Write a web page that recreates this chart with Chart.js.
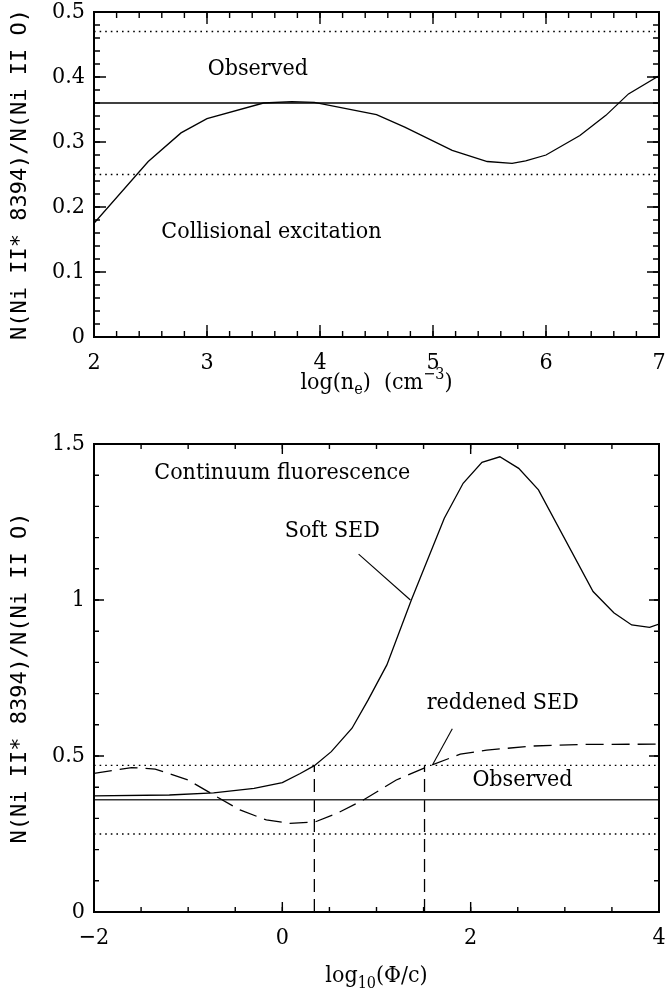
<!DOCTYPE html>
<html>
<head>
<meta charset="utf-8">
<script src="https://cdn.jsdelivr.net/npm/chart.js@4.4.0/dist/chart.umd.min.js"></script>
<style>
    html, body { margin: 0; padding: 0; background: #fff; }
    #wrap { position: relative; width: 666px; height: 992px; }
    canvas { position: absolute; left: 0; }
    #topChart { top: 0; }
    #bottomChart { top: 400px; }
</style>
</head>
<body>
<div id="wrap">
    <canvas id="topChart" width="666" height="400"></canvas>
    <canvas id="bottomChart" width="666" height="592"></canvas>
</div>
<script>
// top panel: collisional excitation vs log(n_e)
const densityLog = [2.0, 2.48, 2.77, 3.0, 3.5, 3.75, 3.95, 4.5, 4.75, 5.17, 5.48, 5.7, 5.82, 6.0, 6.3, 6.53, 6.73, 7.0];
const collisionalRatio = [0.175, 0.270, 0.314, 0.336, 0.360, 0.362, 0.361, 0.342, 0.323, 0.287, 0.270, 0.267, 0.271, 0.280, 0.310, 0.341, 0.374, 0.402];

// bottom panel: continuum fluorescence vs log10(phi/c)
const softPhi = [-2.0, -1.2, -0.73, -0.3, 0.0, 0.19, 0.34, 0.52, 0.74, 0.91, 1.11, 1.37, 1.72, 1.92, 2.12, 2.31, 2.51, 2.72, 3.30, 3.52, 3.71, 3.90, 4.0];
const softRatio = [0.372, 0.375, 0.382, 0.396, 0.415, 0.444, 0.469, 0.514, 0.589, 0.679, 0.792, 1.0, 1.262, 1.374, 1.441, 1.459, 1.422, 1.353, 1.027, 0.959, 0.920, 0.912, 0.923];
const reddenedPhi = [-2.0, -1.6, -1.35, -1.0, -0.7, -0.45, -0.17, 0.08, 0.35, 0.58, 0.86, 1.21, 1.52, 1.89, 2.17, 2.67, 3.2, 4.0];
const reddenedRatio = [0.444, 0.463, 0.458, 0.423, 0.370, 0.327, 0.295, 0.284, 0.289, 0.316, 0.359, 0.423, 0.463, 0.506, 0.519, 0.532, 0.537, 0.538];

// observed ratio and its lower / upper limits
const observedRatio = 0.36;
const observedBounds = [0.25, 0.47];
// where the two models reach the upper limit
const crossingPhi = [0.34, 1.51];

// leader lines from labels to curves
const softLeader = [[0.81, 1.147], [1.36, 1.0]];
const reddenedLeader = [[1.805, 0.587], [1.597, 0.473]];

// tick labels
const topXTicks = [2, 3, 4, 5, 6, 7];
const topYTicks = [0, 0.1, 0.2, 0.3, 0.4, 0.5];
const bottomXTicks = [-2, 0, 2, 4];
const bottomYTicks = [0, 0.5, 1, 1.5];

// axis titles, pieces: [text, vertical shift] (shift != 0 -> small font)
const topXTitle = [["log(n", 0], ["e", 5], [")  (cm", 0], ["\u22123", -10], [")", 0]];
const bottomXTitle = [["log", 0], ["10", 6], ["(\u03A6/c)", 0]];
const yTitle = "N(Ni II* 8394)/N(Ni II O)";

const serif = '"DejaVu Serif Condensed", "DejaVu Serif", serif';
const tickFont = {family: serif, size: 23};
const noteFont = '23px ' + serif;
const smallFont = '16px ' + serif;
const yTitleFont = {family: '"DejaVu Sans Mono", monospace', size: 22};

const pts = (xs, ys) => xs.map((x, i) => ({x: x, y: ys[i]}));
const fmt = (v) => (v < 0 ? "\u2212" + Math.abs(v) : String(v));

// frame + inward ticks on all four sides
const frameTicks = {
    id: "frameTicks",
    afterDatasetsDraw(chart, args, opts) {
        const {ctx, chartArea: a, scales} = chart;
        ctx.save();
        ctx.strokeStyle = "#000";
        ctx.lineWidth = 1.4;
        const draw = (scale, step, len) => {
            const n = Math.round((scale.max - scale.min) / step);
            for (let i = 0; i <= n; i++) {
                const p = scale.getPixelForValue(scale.min + i * step);
                ctx.beginPath();
                if (scale.isHorizontal()) {
                    ctx.moveTo(p, a.bottom); ctx.lineTo(p, a.bottom - len);
                    ctx.moveTo(p, a.top); ctx.lineTo(p, a.top + len);
                } else {
                    ctx.moveTo(a.left, p); ctx.lineTo(a.left + len, p);
                    ctx.moveTo(a.right, p); ctx.lineTo(a.right - len, p);
                }
                ctx.stroke();
            }
        };
        draw(scales.x, opts.xMinor, opts.minorLen);
        draw(scales.y, opts.yMinor, opts.minorLen);
        draw(scales.x, opts.xMajor, opts.majorLen);
        draw(scales.y, opts.yMajor, opts.majorLen);
        ctx.lineWidth = 2;
        ctx.strokeRect(a.left, a.top, a.width, a.height);
        ctx.restore();
    }
};

// text notes placed in data units
const notes = {
    id: "notes",
    afterDatasetsDraw(chart, args, opts) {
        const {ctx, scales} = chart;
        ctx.save();
        ctx.font = noteFont;
        ctx.fillStyle = "#000";
        ctx.textAlign = "center";
        ctx.textBaseline = "middle";
        (opts.items || []).forEach(n => {
            ctx.fillText(n.text, scales.x.getPixelForValue(n.x), scales.y.getPixelForValue(n.y));
        });
        ctx.restore();
    }
};

// x title with sub/superscripts, centred under the plot
function xTitlePlugin(parts, baseline) {
    return {
        id: "xTitle",
        afterDraw(chart) {
            const {ctx, chartArea: a} = chart;
            ctx.save();
            ctx.fillStyle = "#000";
            ctx.textBaseline = "alphabetic";
            ctx.textAlign = "left";
            let total = 0;
            parts.forEach(p => {
                ctx.font = p[1] ? smallFont : noteFont;
                total += ctx.measureText(p[0]).width;
            });
            let x = (a.left + a.right) / 2 - total / 2;
            parts.forEach(p => {
                ctx.font = p[1] ? smallFont : noteFont;
                ctx.fillText(p[0], x, baseline + p[1]);
                x += ctx.measureText(p[0]).width;
            });
            ctx.restore();
        }
    };
}

function makeAxes(xMin, xMax, yMin, yMax, xTicks, yTicks, xHeight) {
    return {
        x: {
            type: "linear", min: xMin, max: xMax,
            afterBuildTicks: (s) => { s.ticks = xTicks.map(v => ({value: v})); },
            afterFit: (s) => { s.height = xHeight; s.paddingLeft = 0; s.paddingRight = 0; },
            grid: {display: false, drawTicks: false},
            border: {display: false},
            ticks: {color: "#000", font: tickFont, padding: 12, maxRotation: 0, autoSkip: false, callback: fmt},
            title: {display: false}
        },
        y: {
            type: "linear", min: yMin, max: yMax,
            afterBuildTicks: (s) => { s.ticks = yTicks.map(v => ({value: v})); },
            afterFit: (s) => { s.width = 94; s.paddingTop = 0; s.paddingBottom = 0; },
            grid: {display: false, drawTicks: false},
            border: {display: false},
            ticks: {color: "#000", font: tickFont, padding: 9, autoSkip: false, callback: fmt},
            title: {display: true, text: yTitle, color: "#000", font: yTitleFont, padding: {top: 7, bottom: 0}}
        }
    };
}

const line = (data, extra) => Object.assign({
    data: data, showLine: true, pointRadius: 0, borderColor: "#000",
    borderWidth: 1.3, fill: false, tension: 0
}, extra || {});

const dotted = {borderDash: [1.6, 4], borderWidth: 1.4};

// ----------------------------
// TOP – collisional excitation
// ----------------------------
(function () {
    const ctx = document.getElementById("topChart");
    new Chart(ctx, {
        type: "scatter",
        data: {
            datasets: [
                line(pts(densityLog, collisionalRatio)),
                line(pts([2, 7], [observedRatio, observedRatio]), {borderWidth: 1.5}),
                line(pts([2, 7], [observedBounds[0], observedBounds[0]]), dotted),
                line(pts([2, 7], [observedBounds[1], observedBounds[1]]), dotted)
            ]
        },
        options: {
            responsive: false,
            animation: false,
            layout: {padding: {top: 12, right: 7, left: 0, bottom: 0}},
            scales: makeAxes(2, 7, 0, 0.5, topXTicks, topYTicks, 63),
            plugins: {
                legend: {display: false},
                tooltip: {enabled: false},
                frameTicks: {xMinor: 0.2, yMinor: 0.02, xMajor: 1, yMajor: 0.1, minorLen: 6, majorLen: 12},
                notes: {items: [
                    {text: "Observed", x: 3.45, y: 0.412},
                    {text: "Collisional excitation", x: 3.57, y: 0.161}
                ]}
            }
        },
        plugins: [frameTicks, notes, xTitlePlugin(topXTitle, 389)]
    });
})();

// ----------------------------
// BOTTOM – continuum fluorescence
// ----------------------------
(function () {
    const ctx = document.getElementById("bottomChart");
    const dashed = {borderDash: [18, 8], borderWidth: 1.3};
    const vDashed = {borderDash: [13, 7], borderWidth: 1.3};
    new Chart(ctx, {
        type: "scatter",
        data: {
            datasets: [
                line(pts(softPhi, softRatio)),
                line(pts(reddenedPhi, reddenedRatio), dashed),
                line(pts([-2, 4], [observedRatio, observedRatio]), {borderWidth: 1.6, borderColor: "#333"}),
                line(pts([-2, 4], [observedBounds[0], observedBounds[0]]), dotted),
                line(pts([-2, 4], [observedBounds[1], observedBounds[1]]), dotted),
                line(pts([crossingPhi[0], crossingPhi[0]], [0, observedBounds[1]]), vDashed),
                line(pts([crossingPhi[1], crossingPhi[1]], [0, observedBounds[1]]), vDashed),
                line(softLeader.map(p => ({x: p[0], y: p[1]})), {borderWidth: 1.1}),
                line(reddenedLeader.map(p => ({x: p[0], y: p[1]})), {borderWidth: 1.1})
            ]
        },
        options: {
            responsive: false,
            animation: false,
            layout: {padding: {top: 44, right: 7, left: 0, bottom: 0}},
            scales: makeAxes(-2, 4, 0, 1.5, bottomXTicks, bottomYTicks, 80),
            plugins: {
                legend: {display: false},
                tooltip: {enabled: false},
                frameTicks: {xMinor: 0.5, yMinor: 0.1, xMajor: 2, yMajor: 0.5, minorLen: 5, majorLen: 10},
                notes: {items: [
                    {text: "Continuum fluorescence", x: 0.0, y: 1.407},
                    {text: "Soft SED", x: 0.53, y: 1.221},
                    {text: "reddened SED", x: 2.34, y: 0.671},
                    {text: "Observed", x: 2.55, y: 0.422}
                ]}
            }
        },
        plugins: [frameTicks, notes, xTitlePlugin(bottomXTitle, 582)]
    });
})();
</script>
</body>
</html>
